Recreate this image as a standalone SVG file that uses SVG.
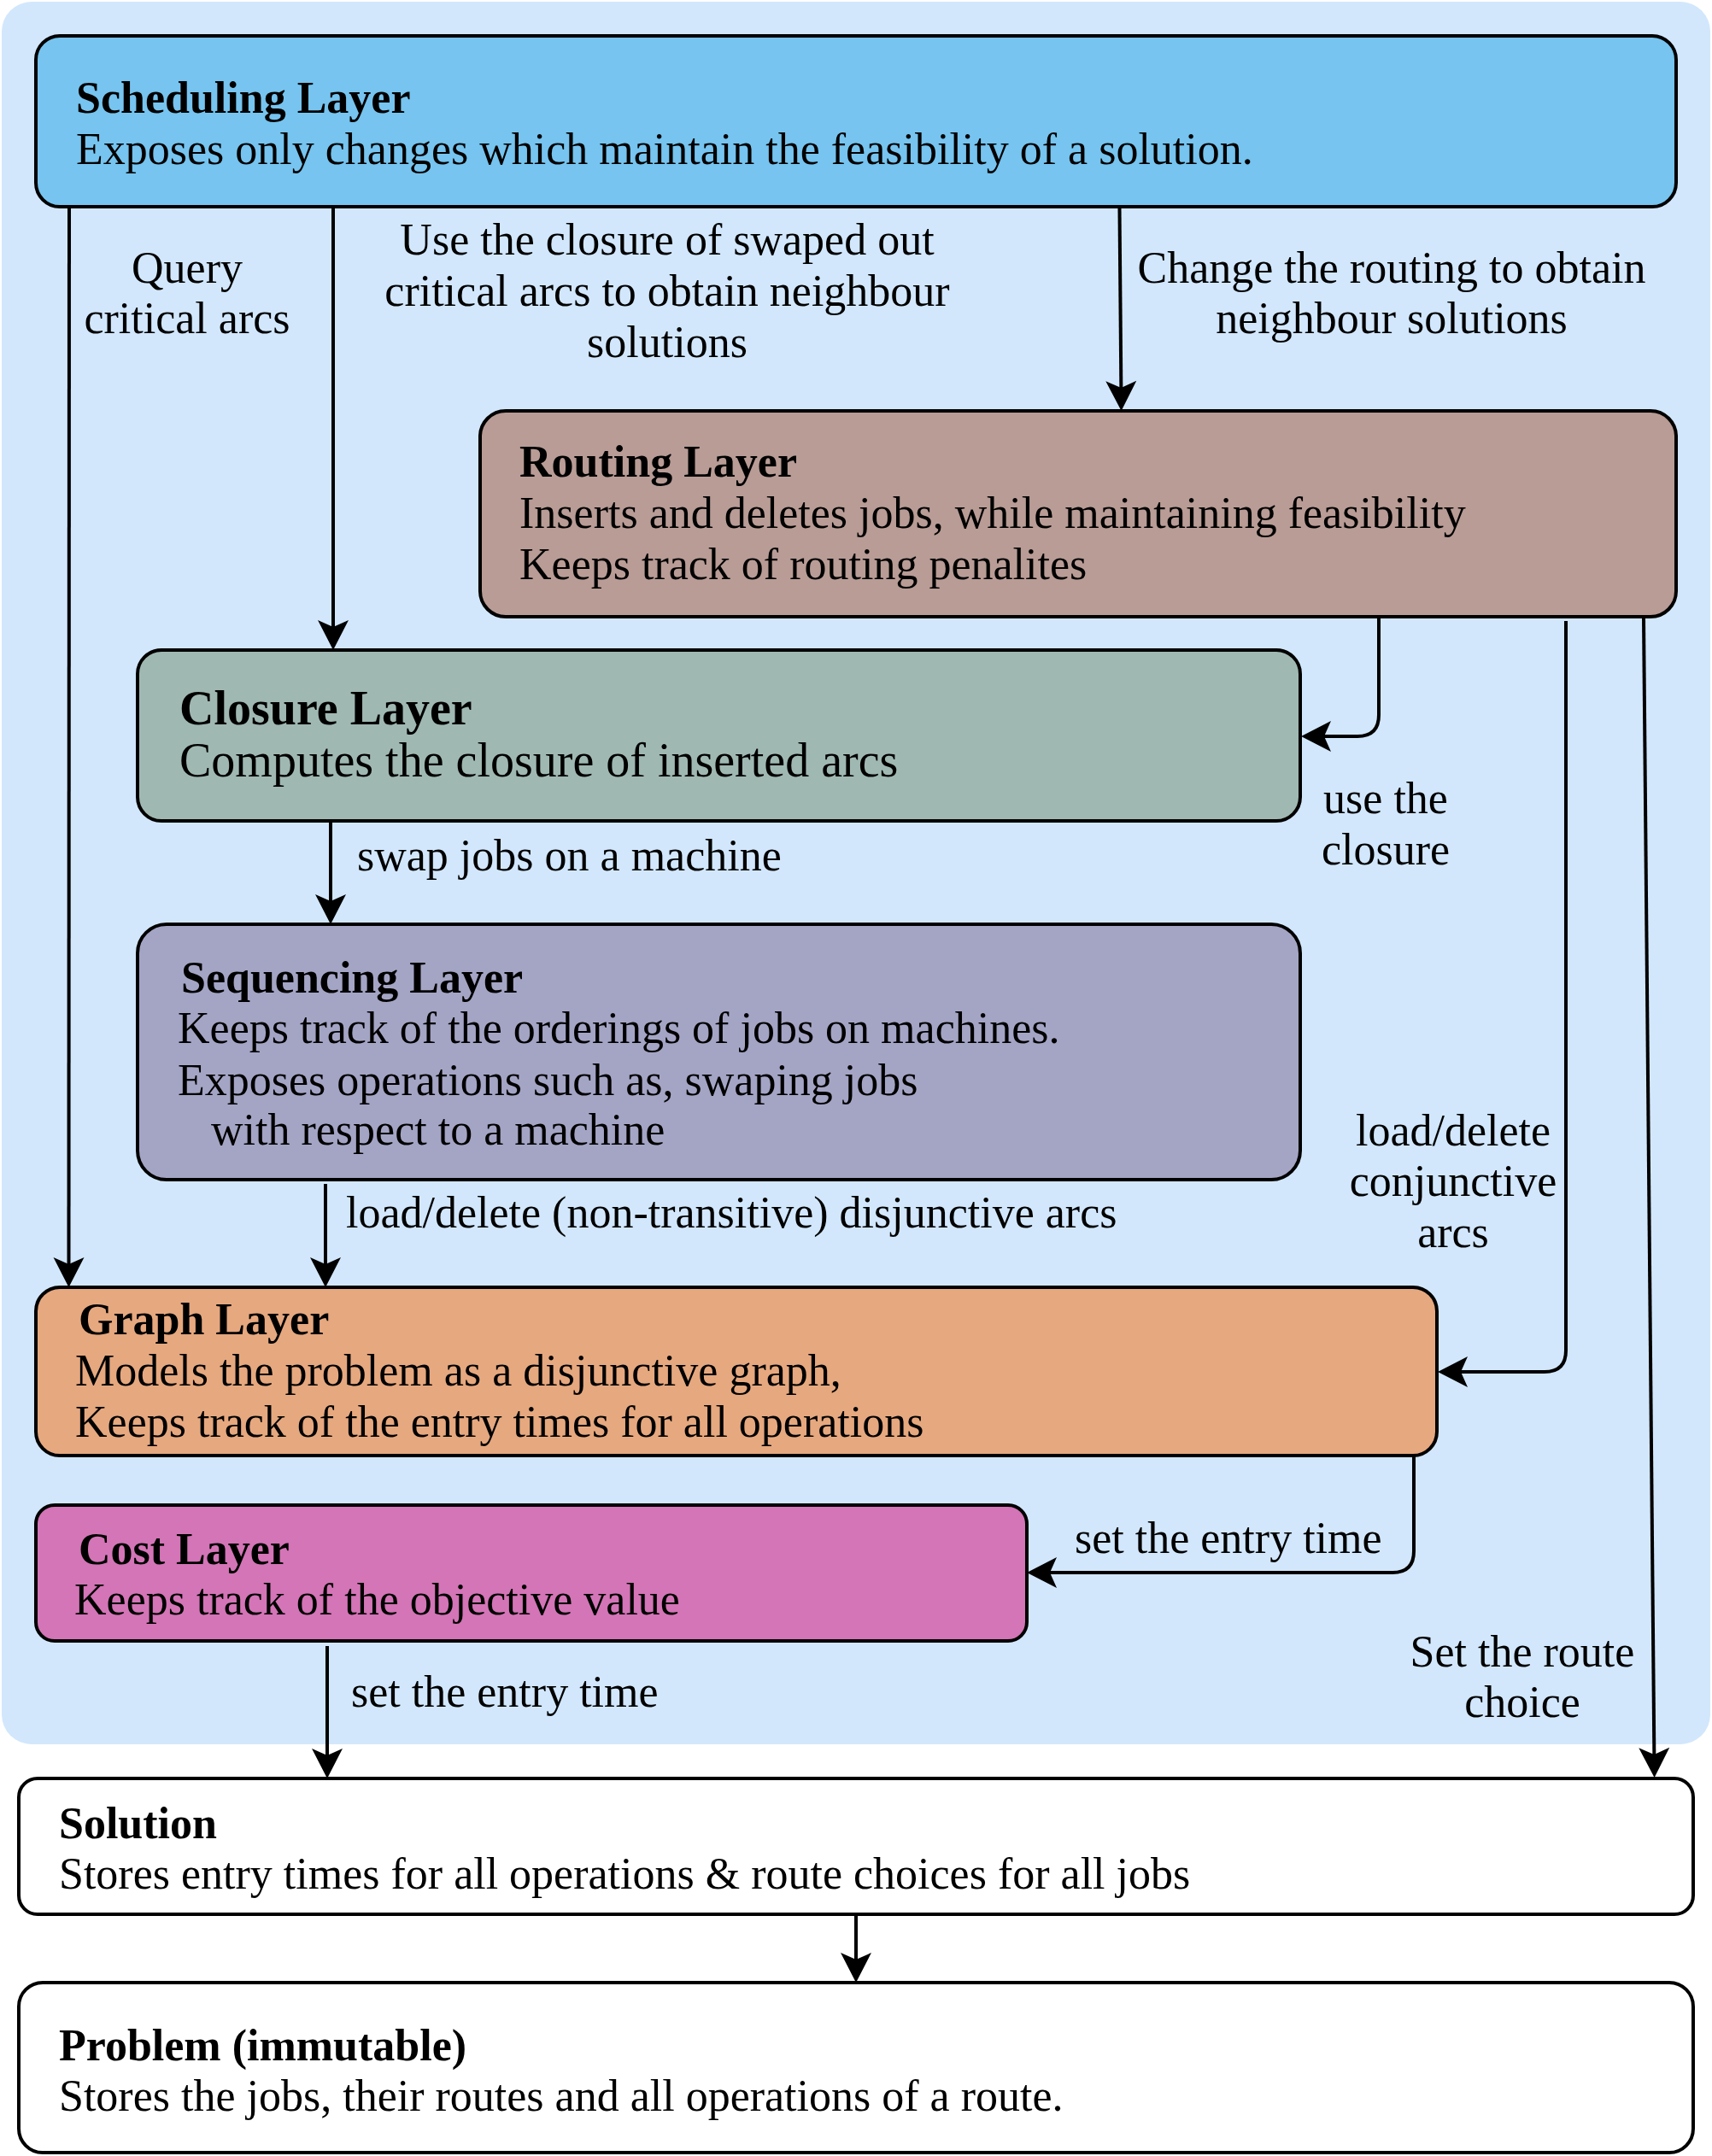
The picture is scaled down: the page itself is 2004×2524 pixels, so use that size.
<svg xmlns="http://www.w3.org/2000/svg" width="2004" height="2524" viewBox="0 0 2004 2524">
<style>
.box{stroke:#000;stroke-width:4}
text{font-family:"Liberation Serif","Times New Roman",serif;font-size:52px;fill:#000}
.b{font-weight:bold}
.big{font-size:56px}
.c{text-anchor:middle}
.con{fill:none;stroke:#000;stroke-width:4}
</style>
<defs>
<marker id="arr" markerUnits="userSpaceOnUse" markerWidth="60" markerHeight="60" viewBox="-40 -25 60 50" refX="0" refY="0" orient="auto">
<path d="M10,0 L-25,-18 L-17,0 L-25,18 Z" fill="#000"/>
</marker>
</defs>
<rect x="2" y="2" width="2000" height="2040" rx="35" fill="#d2e7fc"/>

<g id="scheduling">
<rect class="box" x="42" y="42" width="1920" height="200" rx="28" fill="#76c4ef"/>
<text class="b" x="89" y="132">Scheduling Layer</text>
<text x="89" y="192">Exposes only changes which maintain the feasibility of a solution.</text>
</g>
<g id="routing">
<rect class="box" x="562" y="481" width="1400" height="241" rx="30" fill="#b89c95"/>
<text class="b" x="608" y="558">Routing Layer</text>
<text x="608" y="618">Inserts and deletes jobs, while maintaining feasibility</text>
<text x="608" y="678">Keeps track of routing penalites</text>
</g>
<g id="closure">
<rect class="box" x="161" y="761" width="1361" height="200" rx="28" fill="#a0b8b2"/>
<text class="b big" x="210" y="848">Closure Layer</text>
<text class="big" x="210" y="909">Computes the closure of inserted arcs</text>
</g>
<g id="sequencing">
<rect class="box" x="161" y="1082" width="1361" height="299" rx="34" fill="#a4a5c5"/>
<text class="b" x="212" y="1162">Sequencing Layer</text>
<text x="208" y="1221">Keeps track of the orderings of jobs on machines.</text>
<text x="208" y="1282">Exposes operations such as, swaping jobs</text>
<text x="247" y="1340">with respect to a machine</text>
</g>
<g id="graph">
<rect class="box" x="42" y="1507" width="1640" height="197" rx="28" fill="#e6a87f"/>
<text class="b" x="92" y="1562">Graph Layer</text>
<text x="88" y="1622">Models the problem as a disjunctive graph,</text>
<text x="88" y="1682">Keeps track of the entry times for all operations</text>
</g>
<g id="cost">
<rect class="box" x="42" y="1762" width="1160" height="159" rx="22" fill="#d375b6"/>
<text class="b" x="92" y="1831">Cost Layer</text>
<text x="87" y="1890">Keeps track of the objective value</text>
</g>
<g id="solution">
<rect class="box" x="22" y="2082" width="1960" height="159" rx="22" fill="#fff"/>
<text class="b" x="69" y="2152">Solution</text>
<text x="69" y="2211">Stores entry times for all operations &amp; route choices for all jobs</text>
</g>
<g id="problem">
<rect class="box" x="22" y="2321" width="1960" height="199" rx="28" fill="#fff"/>
<text class="b" x="69" y="2412">Problem (immutable)</text>
<text x="69" y="2471">Stores the jobs, their routes and all operations of a route.</text>
</g>

<g id="connectors">
<path class="con" marker-end="url(#arr)" d="M81 242 L80.5 1497"/>
<path class="con" marker-end="url(#arr)" d="M390 242 L390 751"/>
<path class="con" marker-end="url(#arr)" d="M1310.5 244 L1312.5 471"/>
<path class="con" marker-end="url(#arr)" d="M1614 722 L1614 837 Q1614 862 1589 862 L1533 862"/>
<path class="con" marker-end="url(#arr)" d="M1833 727 L1833 1581 Q1833 1606 1808 1606 L1693 1606"/>
<path class="con" marker-end="url(#arr)" d="M1924 723 L1936.5 2071"/>
<path class="con" marker-end="url(#arr)" d="M387 962 L387 1072"/>
<path class="con" marker-end="url(#arr)" d="M381 1386 L381 1497"/>
<path class="con" marker-end="url(#arr)" d="M1655 1704 L1655 1816 Q1655 1841 1630 1841 L1212 1841"/>
<path class="con" marker-end="url(#arr)" d="M383 1927 L383 2072"/>
<path class="con" marker-end="url(#arr)" d="M1002 2242 L1002 2311"/>
</g>

<g id="labels">
<text class="c" x="219" y="331">Query</text>
<text class="c" x="219" y="390">critical arcs</text>
<text class="c" x="781" y="298">Use the closure of swaped out</text>
<text class="c" x="781" y="358">critical arcs to obtain neighbour</text>
<text class="c" x="781" y="418">solutions</text>
<text class="c" x="1629" y="331">Change the routing to obtain</text>
<text class="c" x="1629" y="390">neighbour solutions</text>
<text class="c" x="1622" y="952">use the</text>
<text class="c" x="1622" y="1012">closure</text>
<text class="c" x="1701" y="1341">load/delete</text>
<text class="c" x="1701" y="1400">conjunctive</text>
<text class="c" x="1701" y="1460">arcs</text>
<text class="c" x="1782" y="1951">Set the route</text>
<text class="c" x="1782" y="2010">choice</text>
<text x="418" y="1019">swap jobs on a machine</text>
<text x="405" y="1437">load/delete (non-transitive) disjunctive arcs</text>
<text x="1258" y="1818">set the entry time</text>
<text x="411" y="1998">set the entry time</text>
</g>
</svg>
